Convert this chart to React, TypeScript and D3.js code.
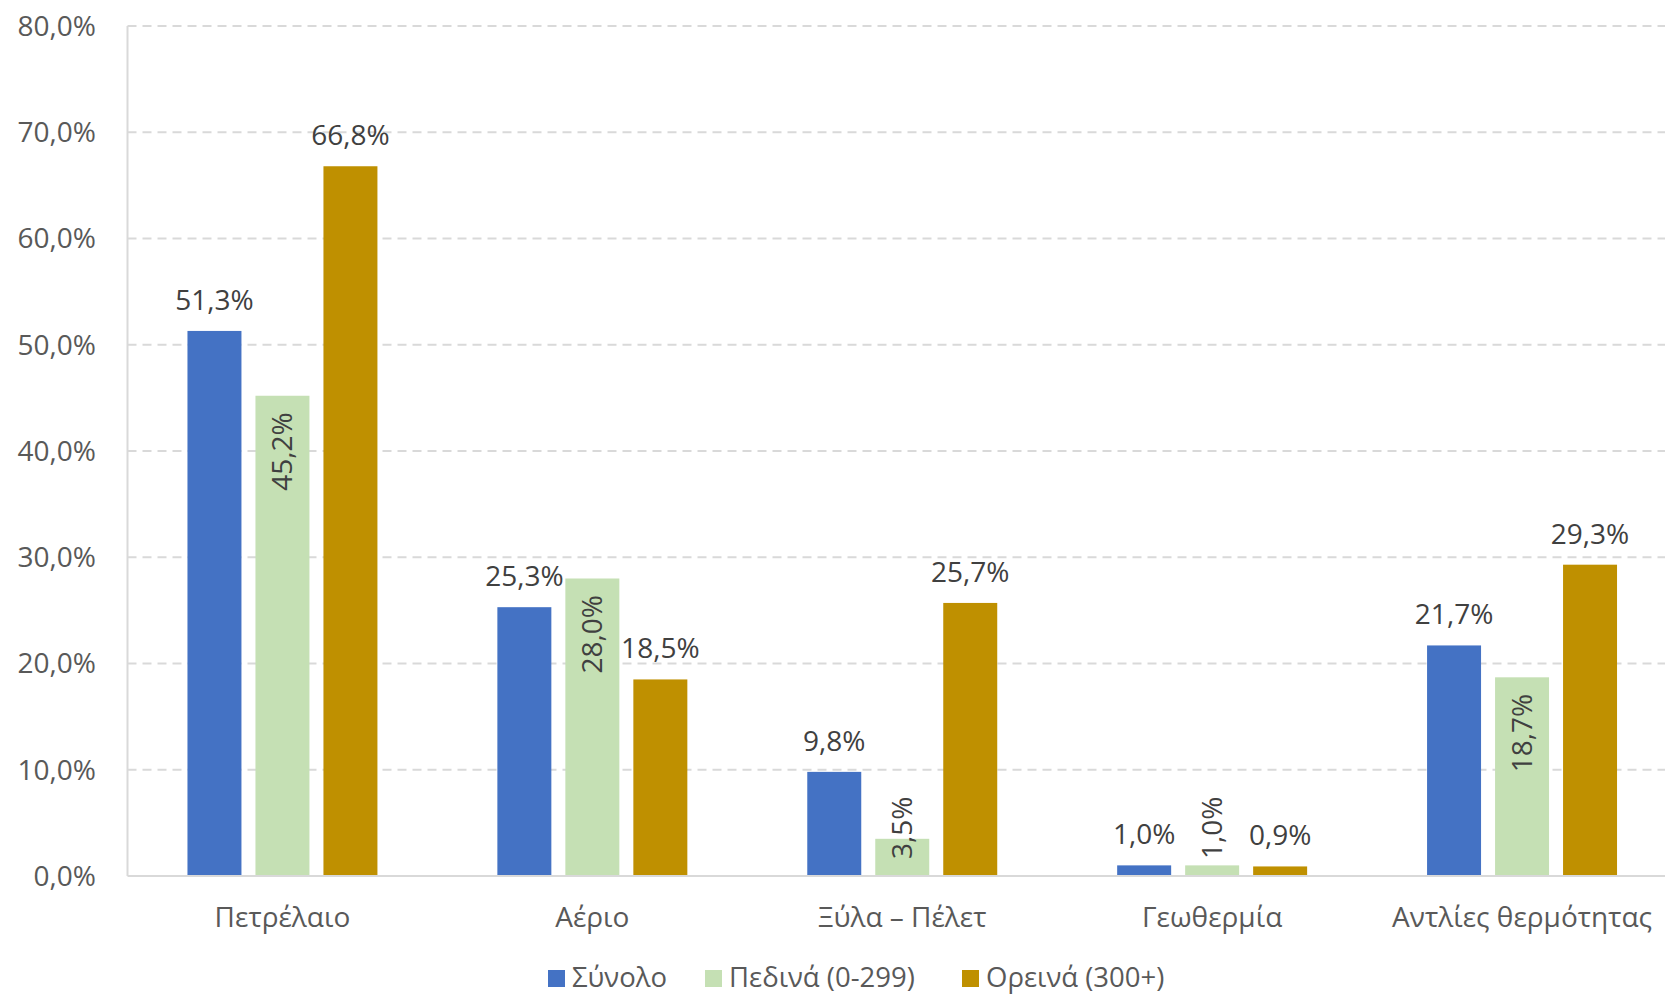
import * as d3 from 'd3'

const categories = ['Πετρέλαιο', 'Αέριο', 'Ξύλα – Πέλετ', 'Γεωθερμία', 'Αντλίες θερμότητας']
const seriesNames = ['Σύνολο', 'Πεδινά (0-299)', 'Ορεινά (300+)']
const synolo = [51.3, 25.3, 9.8, 1.0, 21.7]
const pedina = [45.2, 28.0, 3.5, 1.0, 18.7]
const oreina = [66.8, 18.5, 25.7, 0.9, 29.3]
const yTicks = [0, 10, 20, 30, 40, 50, 60, 70, 80]

const colors = ['#4472C4', '#C5E0B4', '#BF9000']
const seriesValues = [synolo, pedina, oreina]

const width = 1665
const height = 996
const plot = { left: 127.5, right: 1677, top: 26, bottom: 876 }
const FONT = '"Open Sans", "Noto Sans", sans-serif'

// greek style numbers: 51,3%
const locale = d3.formatLocale({ decimal: ',', thousands: '.', grouping: [3], currency: ['', '€'] })
const fmt = (v: number) => locale.format('.1f')(v) + '%'

// legend item offsets from the first square
const legendX = 548
const legendOffsets = [0, 157, 414]

export default function App() {
  const x0 = d3.scaleBand().domain(categories).range([plot.left, plot.right]).paddingInner(0.387).paddingOuter(0.1935)
  const x1 = d3.scaleBand().domain(seriesNames).range([0, x0.bandwidth()]).paddingInner(0.206)
  const y = d3.scaleLinear().domain([0, 80]).range([plot.bottom, plot.top])

  return (
    <div style={{ position: 'absolute', left: 0, top: 0 }}>
      <svg width={width} height={height} style={{ display: 'block', fontFamily: FONT }}>
        <rect width={width} height={height} fill="#fff" />

        {/* grid */}
        {yTicks.map((t) => (
          <g key={t}>
            {t > 0 && (
              <line
                x1={plot.left}
                x2={width}
                y1={y(t)}
                y2={y(t)}
                stroke="#d9d9d9"
                strokeWidth={2}
                strokeDasharray="9 6"
              />
            )}
            <text x={96} y={y(t)} dy="0.35em" textAnchor="end" fontSize={28} fill="#595959">
              {fmt(t)}
            </text>
          </g>
        ))}
        <line x1={plot.left} x2={plot.left} y1={plot.top} y2={plot.bottom} stroke="#d9d9d9" strokeWidth={2} />

        {/* bars */}
        {categories.map((c, i) => (
          <g key={c} transform={`translate(${x0(c)},0)`}>
            {seriesNames.map((s, k) => {
              const v = seriesValues[k][i]
              const top = y(v)
              return (
                <rect key={s} x={x1(s)} y={top} width={x1.bandwidth()} height={plot.bottom - top} fill={colors[k]} />
              )
            })}
          </g>
        ))}
        <line x1={plot.left} x2={width} y1={plot.bottom} y2={plot.bottom} stroke="#d9d9d9" strokeWidth={2} />

        {/* labels */}
        {categories.map((c, i) => (
          <g key={c} transform={`translate(${x0(c)},0)`}>
            {seriesNames.map((s, k) => {
              const v = seriesValues[k][i]
              const cx = x1(s)! + x1.bandwidth() / 2
              const top = y(v)
              if (k === 1) {
                // rotated, inside end; short bars get pushed up from the base
                const tall = plot.bottom - top > 100
                const ty = tall ? top + 16.5 : plot.bottom - 17
                return (
                  <text
                    key={s}
                    transform={`translate(${cx},${ty}) rotate(-90)`}
                    textAnchor={tall ? 'end' : 'start'}
                    dy="0.35em"
                    fontSize={28}
                    fill="#404040"
                  >
                    {fmt(v)}
                  </text>
                )
              }
              return (
                <text key={s} x={cx} y={top - 21} textAnchor="middle" fontSize={28} fill="#404040">
                  {fmt(v)}
                </text>
              )
            })}
            <text x={x0.bandwidth() / 2} y={927} textAnchor="middle" fontSize={28} fill="#595959">
              {c}
            </text>
          </g>
        ))}

        {/* legend */}
        {seriesNames.map((s, k) => (
          <g key={s} transform={`translate(${legendX + legendOffsets[k]},0)`}>
            <rect x={0} y={970} width={17} height={17} fill={colors[k]} />
            <text x={24} y={987} fontSize={27.5} fill="#595959">
              {s}
            </text>
          </g>
        ))}
      </svg>
    </div>
  )
}
